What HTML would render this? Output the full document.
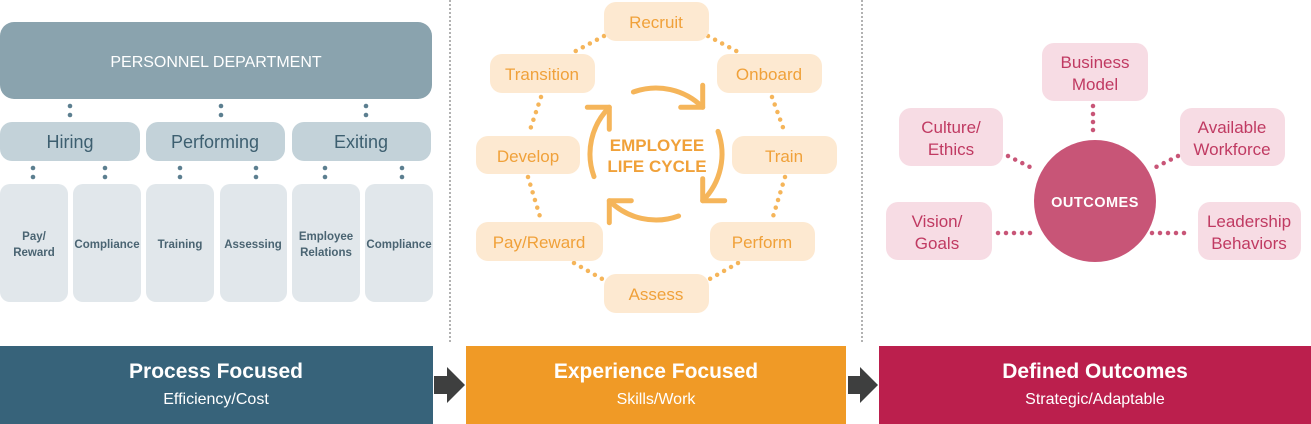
<!DOCTYPE html>
<html><head><meta charset="utf-8"><style>
html,body{margin:0;padding:0;background:#fff;}
svg{display:block;font-family:"Liberation Sans",sans-serif;}
</style></head><body>
<svg width="1311" height="424" viewBox="0 0 1311 424" xmlns="http://www.w3.org/2000/svg">
<line x1="450" y1="0" x2="450" y2="344" stroke="#666" stroke-width="1" stroke-dasharray="2 2"/>
<line x1="862" y1="0" x2="862" y2="344" stroke="#666" stroke-width="1" stroke-dasharray="2 2"/>

<rect x="0" y="22" width="432" height="77" rx="14" fill="#8aa3ae"/>
<text x="216" y="67" text-anchor="middle" fill="#fff" font-size="16">PERSONNEL DEPARTMENT</text>
<g fill="#5c7f90">
<circle cx="70" cy="106" r="2.3"/><circle cx="70" cy="115" r="2.3"/>
<circle cx="221" cy="106" r="2.3"/><circle cx="221" cy="115" r="2.3"/>
<circle cx="366" cy="106" r="2.3"/><circle cx="366" cy="115" r="2.3"/>
<circle cx="33" cy="168" r="2.3"/><circle cx="33" cy="177" r="2.3"/>
<circle cx="105" cy="168" r="2.3"/><circle cx="105" cy="177" r="2.3"/>
<circle cx="180" cy="168" r="2.3"/><circle cx="180" cy="177" r="2.3"/>
<circle cx="256" cy="168" r="2.3"/><circle cx="256" cy="177" r="2.3"/>
<circle cx="325" cy="168" r="2.3"/><circle cx="325" cy="177" r="2.3"/>
<circle cx="402" cy="168" r="2.3"/><circle cx="402" cy="177" r="2.3"/>
</g>
<g fill="#c3d2d9">
<rect x="0" y="122" width="140" height="39" rx="12"/>
<rect x="146" y="122" width="139" height="39" rx="12"/>
<rect x="292" y="122" width="139" height="39" rx="12"/>
</g>
<g fill="#3d5f70" font-size="18" text-anchor="middle">
<text x="70" y="148">Hiring</text>
<text x="215" y="148">Performing</text>
<text x="361" y="148">Exiting</text>
</g>
<g fill="#e1e7eb">
<rect x="0" y="184" width="68" height="118" rx="10"/>
<rect x="73" y="184" width="68" height="118" rx="10"/>
<rect x="146" y="184" width="68" height="118" rx="10"/>
<rect x="220" y="184" width="67" height="118" rx="10"/>
<rect x="292" y="184" width="68" height="118" rx="10"/>
<rect x="365" y="184" width="68" height="118" rx="10"/>
</g>
<g fill="#4a6472" font-size="11.5" font-weight="bold" text-anchor="middle">
<text x="34" y="240">Pay/</text><text x="34" y="256">Reward</text>
<text x="107" y="248">Compliance</text>
<text x="180" y="248">Training</text>
<text x="253" y="248">Assessing</text>
<text x="326" y="240">Employee</text><text x="326" y="256">Relations</text>
<text x="399" y="248">Compliance</text>
</g>

<g stroke="#f5b55a" stroke-width="4.5" stroke-linecap="round" stroke-dasharray="0 8" fill="none">
<line x1="708" y1="36" x2="740" y2="53"/>
<line x1="604" y1="36" x2="572" y2="53"/>
<line x1="541" y1="97" x2="529" y2="133"/>
<line x1="772" y1="97" x2="785" y2="133"/>
<line x1="528" y1="177" x2="541" y2="220"/>
<line x1="785" y1="177" x2="772" y2="220"/>
<line x1="574" y1="263" x2="604" y2="280"/>
<line x1="738" y1="263" x2="708" y2="280"/>
</g>
<g fill="#fde9d1">
<rect x="604" y="2" width="105" height="39" rx="12"/>
<rect x="490" y="54" width="105" height="39" rx="12"/>
<rect x="717" y="54" width="105" height="39" rx="12"/>
<rect x="476" y="136" width="104" height="38" rx="12"/>
<rect x="732" y="136" width="105" height="38" rx="12"/>
<rect x="476" y="222" width="127" height="39" rx="12"/>
<rect x="710" y="222" width="105" height="39" rx="12"/>
<rect x="604" y="274" width="105" height="39" rx="12"/>
</g>
<g fill="#f0a13a" font-size="17" text-anchor="middle">
<text x="656" y="28">Recruit</text>
<text x="542" y="80">Transition</text>
<text x="769" y="80">Onboard</text>
<text x="528" y="162">Develop</text>
<text x="784" y="162">Train</text>
<text x="539" y="248">Pay/Reward</text>
<text x="762" y="248">Perform</text>
<text x="656" y="300">Assess</text>
</g>
<g stroke="#f5b55a" stroke-width="5" fill="none" stroke-linecap="round" stroke-linejoin="round">
<path d="M633.4 92 A66 66 0 0 1 702.7 107.3"/>
<polyline points="680.7,107.3 702.7,107.3 702.7,85.3"/>
<path d="M718 131.4 A66 66 0 0 1 702.7 200.7"/>
<polyline points="724.7,200.7 702.7,200.7 702.7,178.7"/>
<path d="M678.6 216 A66 66 0 0 1 609.3 200.7"/>
<polyline points="609.3,222.7 609.3,200.7 631.3,200.7"/>
<path d="M594 176.6 A66 66 0 0 1 609.3 107.3"/>
<polyline points="587.3,107.3 609.3,107.3 609.3,129.3"/>
</g>
<g fill="#f0a13a" font-size="17" font-weight="bold" text-anchor="middle">
<text x="657" y="151">EMPLOYEE</text>
<text x="657" y="172">LIFE CYCLE</text>
</g>

<g stroke="#c85577" stroke-width="4.5" stroke-linecap="round" stroke-dasharray="0 8" fill="none">
<line x1="1093" y1="106" x2="1093" y2="138"/>
<line x1="1008" y1="156" x2="1036" y2="170"/>
<line x1="1178" y1="156" x2="1150" y2="170"/>
<line x1="998" y1="233" x2="1038" y2="233"/>
<line x1="1152" y1="233" x2="1192" y2="233"/>
</g>
<g fill="#f7dce4">
<rect x="1042" y="43" width="106" height="58" rx="12"/>
<rect x="899" y="108" width="104" height="58" rx="12"/>
<rect x="1180" y="108" width="105" height="58" rx="12"/>
<rect x="886" y="202" width="106" height="58" rx="12"/>
<rect x="1198" y="202" width="103" height="58" rx="12"/>
</g>
<circle cx="1095" cy="201" r="61" fill="#c85577"/>
<text x="1095" y="207" text-anchor="middle" fill="#fff" font-size="14.5" font-weight="bold" letter-spacing="0.5">OUTCOMES</text>
<g fill="#c03a62" font-size="17" text-anchor="middle">
<text x="1095" y="68">Business</text><text x="1095" y="90">Model</text>
<text x="951" y="133">Culture/</text><text x="951" y="155">Ethics</text>
<text x="1232" y="133">Available</text><text x="1232" y="155">Workforce</text>
<text x="937" y="227">Vision/</text><text x="937" y="249">Goals</text>
<text x="1249" y="227">Leadership</text><text x="1249" y="249">Behaviors</text>
</g>

<rect x="0" y="346" width="433" height="78" fill="#37637a"/>
<rect x="466" y="346" width="380" height="78" fill="#f09a26"/>
<rect x="879" y="346" width="432" height="78" fill="#bb1f4d"/>
<g fill="#3e3f3f">
<polygon points="434,376 447,376 447,367 465,385 447,403 447,394 434,394"/>
<polygon points="848,376 860,376 860,367 878,385 860,403 860,394 848,394"/>
</g>
<g fill="#fff" text-anchor="middle">
<text x="216" y="378" font-size="21" font-weight="bold">Process Focused</text>
<text x="216" y="404" font-size="16">Efficiency/Cost</text>
<text x="656" y="378" font-size="21" font-weight="bold">Experience Focused</text>
<text x="656" y="404" font-size="16">Skills/Work</text>
<text x="1095" y="378" font-size="21" font-weight="bold">Defined Outcomes</text>
<text x="1095" y="404" font-size="16">Strategic/Adaptable</text>
</g>
</svg>
</body></html>
